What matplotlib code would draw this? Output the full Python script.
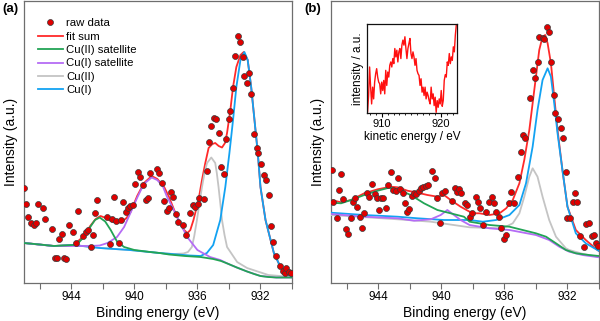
import numpy as np
import matplotlib
matplotlib.use("Agg")
import matplotlib.pyplot as plt
from matplotlib.ticker import MultipleLocator

plt.rcParams['font.family'] = ['Liberation Sans', 'DejaVu Sans']

# ---- panel (a): Cu 2p3/2 region, raw data ----
a_raw_be = [946.99, 946.86, 946.73, 946.57, 946.39, 946.27, 946.14, 945.82, 945.68, 945.23,
            945.06, 944.91, 944.76, 944.61, 944.48, 944.31, 944.17, 943.87, 943.70, 943.55,
            943.25, 943.08, 942.96, 942.78, 942.64, 942.51, 942.36, 941.73, 941.57, 941.43,
            941.30, 941.15, 940.98, 940.87, 940.71, 940.55, 940.41, 940.28, 940.07, 939.94,
            939.79, 939.64, 939.47, 939.26, 939.13, 939.03, 938.58, 938.43, 938.24, 938.11,
            937.94, 937.80, 937.69, 937.52, 937.37, 937.20, 936.92, 936.71, 936.46, 936.31,
            936.14, 935.99, 935.87, 935.61, 935.39, 935.25, 935.12, 934.97, 934.80, 934.66,
            934.50, 934.34, 934.21, 934.02, 933.91, 933.74, 933.59, 933.45, 933.29, 933.13,
            933.02, 932.85, 932.72, 932.59, 932.38, 932.25, 932.13, 931.96, 931.79, 931.64,
            931.49, 931.36, 931.19, 931.04, 930.77, 930.55, 930.47, 930.36, 930.20, 930.04]
a_raw_int = [95, 79, 66, 60, 58, 60, 79, 75, 64, 54,
             25, 25, 44, 49, 25, 24, 58, 51, 40, 72,
             47, 51, 53, 36, 48, 70, 83, 66, 39, 64,
             86, 62, 40, 63, 81, 71, 75, 77, 78, 99,
             111, 106, 98, 83, 85, 110, 114, 110, 100, 82,
             72, 75, 91, 86, 69, 61, 58, 48, 70, 78,
             76, 79, 85, 84, 112, 141, 157, 165, 164, 150,
             116, 109, 144, 164, 172, 195, 227, 247, 241, 226,
             207, 200, 210, 189, 149, 135, 130, 119, 108, 103,
             88, 57, 41, 27, 17, 12, 10, 15, 11, 10]

# ---- panel (a): fitted components (each on its Shirley background) ----
a_sum_be = [947.0, 945.1, 943.85, 943.2, 942.8, 942.45, 942.15, 941.8, 941.5, 941.1,
            940.8, 940.5, 940.24, 939.82, 939.39, 938.9, 938.54, 938.11, 937.8, 937.5,
            937.1, 936.85, 936.63, 936.45, 936.25, 935.93, 935.71, 935.5, 935.29, 935.05,
            934.87, 934.65, 934.44, 934.25, 934.12, 933.91, 933.74, 933.53, 933.27, 933.06,
            932.81, 932.59, 932.38, 932.17, 932.0, 931.68, 931.15, 930.73, 930.09, 930.0]
a_sum_int = [40, 37, 38, 47, 57, 64, 67, 65, 62, 60,
             61, 65, 71, 87, 100, 107, 104, 96, 86, 74,
             59, 53, 50, 53, 63, 83, 103, 120, 135, 139,
             140, 137, 135.5, 140, 150, 173, 196, 216, 228, 231,
             223, 196, 163, 130, 96, 63, 30, 16, 7, 6.5]

a_cu2sat_be = [947.0, 946.0, 945.1, 944.5, 943.85, 943.5, 943.2, 942.8, 942.5, 942.2,
               941.85, 941.5, 941.1, 940.65, 940.0, 939.0, 938.4, 937.8, 936.8, 935.8,
               935.0, 934.5, 934.1, 933.5, 932.85, 932.4, 932.0, 931.5, 931.0, 930.0]
a_cu2sat_int = [40, 38.5, 37, 37.5, 38, 41, 46, 56, 63, 65.5,
                61.5, 53, 41.5, 36, 33, 31, 30, 28.5, 27, 26,
                24, 22, 19.5, 15.5, 11.5, 9, 7, 6, 5.5, 5.5]

a_cu1sat_be = [947.0, 945.1, 943.85, 942.8, 942.2, 941.7, 941.1, 940.65, 940.25, 939.8,
               939.4, 938.9, 938.55, 938.2, 937.95, 937.5, 937.1, 936.65, 936.0, 935.2,
               934.55, 934.1, 933.5, 932.85, 932.0, 931.0, 930.0]
a_cu1sat_int = [40, 37, 37, 37, 37.5, 40, 46, 56, 70, 86,
                99, 105.5, 103, 97, 87, 73, 60, 46, 33, 26,
                23, 19.5, 15.5, 11.5, 7, 5.5, 5.5]

a_cu2_be = [947.0, 945.1, 943.85, 942.2, 940.3, 938.4, 937.5, 936.88, 936.6, 936.35,
            936.2, 936.03, 935.87, 935.71, 935.55, 935.39, 935.12, 934.87, 934.77, 934.66,
            934.55, 934.44, 934.28, 934.12, 933.48, 932.85, 931.5, 930.0]
a_cu2_int = [40, 37, 38, 35, 33, 30, 29, 29.5, 31, 36,
             47, 63, 80, 96, 110, 120, 125.5, 120, 110, 96,
             80, 63, 48, 36, 21, 15, 8, 6]

a_cu1_be = [947.0, 945.1, 943.85, 942.2, 940.3, 938.4, 936.5, 935.8, 935.4, 935.0,
            934.55, 934.23, 933.97, 933.74, 933.53, 933.27, 933.02, 932.81, 932.59, 932.38,
            932.17, 932.0, 931.68, 931.15, 930.73, 930.09, 930.0]
a_cu1_int = [40, 37, 38, 35, 33, 30, 27.5, 27, 30, 38,
             63, 96, 130, 163, 196, 223, 231, 223, 196, 163,
             130, 96, 63, 30, 16, 7, 6.5]

# ---- panel (b): raw data ----
b_raw_be = [946.95, 946.85, 946.63, 946.47, 946.36, 946.21, 946.06, 945.90, 945.75, 945.58,
            945.47, 945.33, 945.16, 945.01, 944.89, 944.74, 944.57, 944.42, 944.23, 944.10,
            943.96, 943.81, 943.69, 943.52, 943.37, 943.22, 943.05, 942.90, 942.78, 942.63,
            942.46, 942.32, 942.21, 942.06, 941.89, 941.73, 941.58, 941.43, 941.32, 941.16,
            940.99, 940.84, 940.57, 940.42, 940.28, 940.10, 939.93, 939.74, 939.35, 939.16,
            939.01, 938.89, 938.73, 938.53, 938.36, 938.21, 938.04, 937.83, 937.69, 937.53,
            937.37, 937.15, 936.95, 936.78, 936.63, 936.52, 936.36, 936.21, 936.04, 935.89,
            935.73, 935.56, 935.37, 935.16, 934.94, 934.84, 934.67, 934.38, 934.21, 934.08,
            933.90, 933.79, 933.58, 933.47, 933.33, 933.16, 933.03, 932.88, 932.78, 932.61,
            932.42, 932.27, 932.10, 932.00, 931.85, 931.68, 931.51, 931.37, 931.20, 930.95,
            930.80, 930.63, 930.42, 930.31, 930.21, 930.04]
b_raw_int = [113, 81, 65, 93, 109, 84, 54, 49, 65, 81,
             85, 76, 66, 55, 70, 90, 86, 99, 89, 85,
             73, 85, 85, 75, 98, 111, 93, 92, 105, 94,
             90, 80, 71, 74, 87, 90, 89, 92, 95, 96,
             97, 98, 112, 105, 85, 60, 90, 92, 82, 95,
             91, 94, 90, 80, 78, 66, 70, 86, 81, 75,
             58, 71, 81, 86, 80, 71, 66, 55, 44, 48,
             80, 91, 80, 106, 131, 148, 145, 185, 213, 205,
             221, 246, 245, 244, 256, 251, 221, 188, 170, 164,
             155, 145, 111, 65, 65, 81, 90, 81, 47, 36,
             59, 60, 47, 48, 40, 37]

# ---- panel (b): fitted components ----
b_sum_be = [947.0, 946.36, 945.73, 944.89, 944.04, 943.2, 942.78, 942.15, 941.51, 940.88,
            940.25, 939.83, 939.41, 938.78, 938.21, 937.83, 937.58, 936.95, 936.31, 935.89,
            935.47, 935.05, 934.74, 934.42, 934.21, 934.0, 933.79, 933.58, 933.41, 933.26,
            933.05, 932.84, 932.63, 932.32, 932.0, 931.47, 930.84, 930.1, 930.0]
b_sum_int = [83, 80.7, 83, 89.7, 93.7, 96.3, 95.7, 92.3, 90.3, 88,
             86.3, 88, 83, 76.3, 71.3, 69.7, 69.7, 68, 69.7, 74.7,
             83, 99.7, 123, 153, 179.7, 206.3, 233, 246.3, 248, 239.7,
             219.7, 186.3, 153, 113, 76.3, 53, 43, 33, 32]

b_cu2sat_be = [947.0, 946.36, 945.73, 944.89, 944.04, 943.31, 942.78, 941.94, 941.1, 940.25,
               939.41, 938.57, 938.21, 936.95, 935.68, 934.84, 934.0, 933.36, 932.73, 932.1,
               931.47, 930.63, 930.0]
b_cu2sat_int = [80.3, 79.7, 83, 88, 92.3, 95.3, 93.7, 88, 79.7, 73,
                69.7, 66.3, 61.3, 58, 56.3, 53, 49.7, 46.3, 39.7, 33,
                29.7, 28, 27]

b_cu1sat_be = [947.0, 944.89, 942.78, 941.73, 940.67, 940.04, 939.62, 939.2, 938.78, 938.21,
               936.95, 935.68, 934.0, 933.16, 932.52, 931.89, 931.05, 930.0]
b_cu1sat_int = [69, 66.3, 64.7, 62.3, 63.7, 68, 73, 68, 63, 58,
                54.7, 53, 48, 43, 36.3, 31.3, 28, 25.7]

b_cu2_be = [947.0, 942.78, 940.67, 938.21, 936.11, 935.47, 935.05, 934.74, 934.42, 934.21,
            933.9, 933.58, 933.16, 932.73, 932.1, 931.89, 931.0, 930.0]
b_cu2_int = [68, 63.7, 61.3, 55.7, 54.7, 59.7, 69.7, 86.3, 106.3, 114.7,
             106.3, 86.3, 63, 46.3, 34.7, 33, 29, 26]

b_cu1_be = [947.0, 944.89, 942.78, 941.51, 939.83, 938.21, 937.37, 936.52, 935.68, 935.05,
            934.63, 934.21, 933.9, 933.58, 933.26, 933.05, 932.84, 932.63, 932.32, 932.0,
            931.47, 930.84, 930.1, 930.0]
b_cu1_int = [70.3, 68, 66.3, 64.7, 63, 63, 61.3, 63, 68, 78,
             99.7, 136.3, 173, 203, 214.7, 206.3, 179.7, 149.7, 113, 76.3,
             49.7, 39.7, 33, 32]

# ---- inset: Auger spectrum, kinetic energy scan ----
ke_first, ke_last = 907.6, 922.65
auger_int = [4, 52, 137, 77, 27, 77, 42, 92, 117, 132,
             107, 92, 87, 57, 92, 67, 97, 57, 127, 82,
             122, 107, 142, 152, 137, 162, 147, 192, 167, 187,
             152, 182, 192, 162, 202, 217, 202, 227, 192, 162,
             192, 207, 222, 177, 162, 182, 167, 142, 162, 127,
             117, 112, 82, 102, 62, 77, 52, 77, 42, 62,
             52, 37, 27, 77, 42, 57, 22, 47, 2, 37,
             17, 42, 27, 67, 20, 37, 97, 114, 107, 152,
             142, 177, 147, 167, 157, 197, 182, 232, 264]

RED = '#ff2a2a'
GREEN = '#22a455'
PURPLE = '#b56cf5'
GREY = '#c4c4c4'
BLUE = '#12a2f2'
SPINE = '#6e6e6e'

fig = plt.figure(figsize=(6.0, 3.21), dpi=100)
ax_a = fig.add_axes([24 / 600, 38 / 321, 268 / 600, 282 / 321])
ax_b = fig.add_axes([331 / 600, 38 / 321, 268 / 600, 282 / 321])


def style_main(ax):
    ax.set_xlim(947, 930)
    ax.set_ylim(0, 282)
    ax.xaxis.set_major_locator(MultipleLocator(4))
    ax.xaxis.set_minor_locator(MultipleLocator(2))
    ax.tick_params(axis='x', which='both', direction='out', length=4, width=0.8,
                   color=SPINE, labelsize=8.5, pad=2, top=False)
    ax.set_yticks([])
    for s in ax.spines.values():
        s.set_color(SPINE)
        s.set_linewidth(0.9)
    ax.set_xlabel('Binding energy (eV)', fontsize=10, labelpad=2)
    ax.set_ylabel('Intensity (a.u.)', fontsize=10, labelpad=4)


def draw_panel(ax, raw, fit, cu2sat, cu1sat, cu2, cu1):
    lw = 1.3
    ax.plot(*fit, color=RED, lw=lw, label='fit sum', zorder=2)
    ax.plot(*cu2, color=GREY, lw=lw, label='Cu(II)', zorder=3)
    ax.plot(*cu1, color=BLUE, lw=lw, label='Cu(I)', zorder=4)
    ax.plot(*cu1sat, color=PURPLE, lw=lw, label='Cu(I) satellite', zorder=5)
    ax.plot(*cu2sat, color=GREEN, lw=lw, label='Cu(II) satellite', zorder=6)
    ax.plot(*raw, ls='none', marker='o', ms=4.3, mfc='#e00000', mec='#3a3a3a',
            mew=0.5, label='raw data', zorder=7)


draw_panel(ax_a, (a_raw_be, a_raw_int), (a_sum_be, a_sum_int),
           (a_cu2sat_be, a_cu2sat_int), (a_cu1sat_be, a_cu1sat_int),
           (a_cu2_be, a_cu2_int), (a_cu1_be, a_cu1_int))
draw_panel(ax_b, (b_raw_be, b_raw_int), (b_sum_be, b_sum_int),
           (b_cu2sat_be, b_cu2sat_int), (b_cu1sat_be, b_cu1sat_int),
           (b_cu2_be, b_cu2_int), (b_cu1_be, b_cu1_int))
style_main(ax_a)
style_main(ax_b)

# legend in panel (a), ordered as raw data / fit / components
h, l = ax_a.get_legend_handles_labels()
order = ['raw data', 'fit sum', 'Cu(II) satellite', 'Cu(I) satellite', 'Cu(II)', 'Cu(I)']
hl = {lab: hh for hh, lab in zip(h, l)}
ax_a.legend([hl[k] for k in order], order, loc='upper left', frameon=False,
            fontsize=8.2, handlelength=2.2, handletextpad=0.3, labelspacing=0.3,
            borderaxespad=0, bbox_to_anchor=(0.035, 0.955), numpoints=1)

fig.text(2 / 600, 1 - 9 / 321, '(a)', fontsize=9.5, fontweight='bold', va='center', ha='left')
fig.text(304 / 600, 1 - 9 / 321, '(b)', fontsize=9.5, fontweight='bold', va='center', ha='left')

# inset with the Auger line
ax_in = fig.add_axes([367 / 600, (321 - 113) / 321, 90 / 600, 89 / 321])
ke = np.linspace(ke_first, ke_last, len(auger_int))
ax_in.plot(ke, auger_int, color='#ff1010', lw=1.0)
ax_in.set_xlim(907.5, 922.76)
ax_in.set_ylim(0, 265)
ax_in.set_yticks([])
ax_in.set_xticks([910, 920])
ax_in.xaxis.set_minor_locator(MultipleLocator(1))
ax_in.tick_params(axis='x', which='major', length=3, width=0.8, labelsize=8, pad=1.5)
ax_in.tick_params(axis='x', which='minor', length=1.5, width=0.6)
for s in ax_in.spines.values():
    s.set_color('#111111')
    s.set_linewidth(0.9)
ax_in.set_xlabel('kinetic energy / eV', fontsize=8.5, labelpad=1)
ax_in.set_ylabel('intensity / a.u.', fontsize=8.5, labelpad=2)

fig.savefig('out.png', dpi=100)
